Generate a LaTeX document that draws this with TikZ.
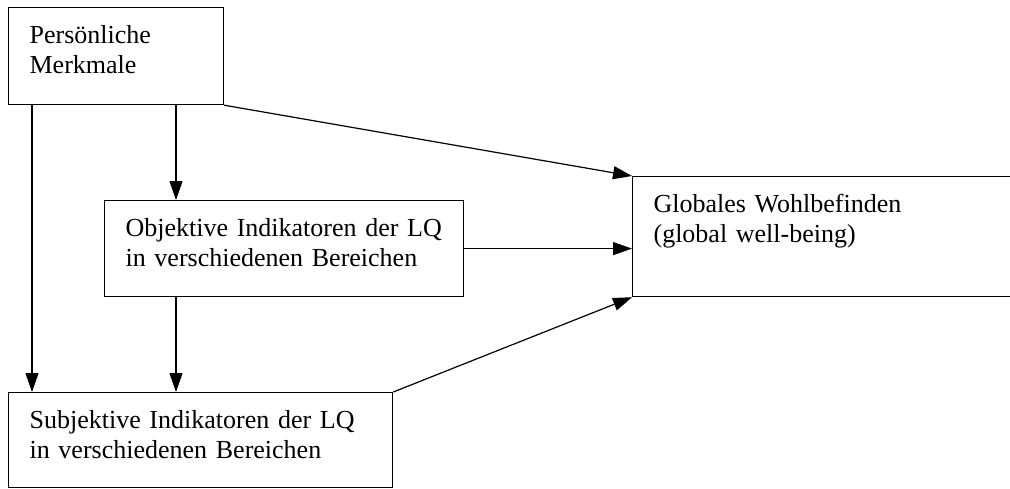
\documentclass[tikz,border=0pt]{standalone}
\usepackage{fontspec}
\setmainfont{Liberation Serif}
\usetikzlibrary{arrows.meta}

\begin{document}
\begin{tikzpicture}[x=0.5pt,y=-0.5pt,line width=0.6pt]
  \tikzstyle{BoxStyle}=[draw,anchor=north west,align=left,inner xsep=10.5pt,inner ysep=9pt,text height=9pt,font=\fontsize{13}{15}\selectfont]
  \tikzstyle{EdgeStyle}=[-{Triangle[length=9.5pt,width=6.5pt]}]

  \useasboundingbox (0,0) rectangle (1010,488);

  \node[BoxStyle,text width=86.5pt,text depth=21.5pt] (pm) at (8,7) {Persönliche\\Merkmale};
  \node[BoxStyle,text width=158.5pt,text depth=21pt] (obj) at (104,200) {Objektive Indikatoren der LQ\\in verschiedenen Bereichen};
  \node[BoxStyle,text width=170pt,text depth=33pt] (glob) at (632,176) {Globales Wohlbefinden\\(global well-being)};
  \node[BoxStyle,text width=171pt,text depth=20.5pt] (subj) at (8,392) {Subjektive Indikatoren der LQ\\in verschiedenen Bereichen};

  \draw[EdgeStyle] (pm.south east) -- (glob.north west);
  \draw[EdgeStyle] ([xshift=12pt]pm.south west) -- ([xshift=12pt]subj.north west);
  \draw[EdgeStyle] ([xshift=84pt]pm.south west) -- ([xshift=36pt]obj.north west);
  \draw[EdgeStyle] (obj.east) -- (obj.east -| glob.west);
  \draw[EdgeStyle] ([xshift=36pt]obj.south west) -- ([xshift=84pt]subj.north west);
  \draw[EdgeStyle] (subj.north east) -- (glob.south west);
\end{tikzpicture}
\end{document}
